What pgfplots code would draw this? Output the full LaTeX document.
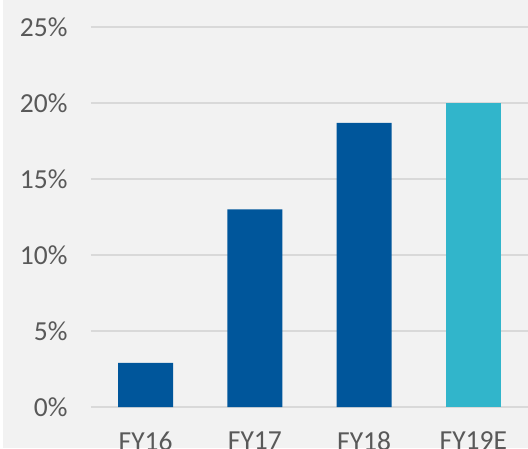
\documentclass[border=0pt]{standalone}
\usepackage{pgfplots}
\pgfplotsset{compat=1.18}
\usepackage{fontspec}
\setmainfont{Carlito}
\definecolor{bg}{HTML}{F2F2F2}
\definecolor{gridc}{HTML}{D9D9D9}
\definecolor{lab}{HTML}{595959}
\definecolor{dblue}{HTML}{00569B}
\definecolor{tealc}{HTML}{31B5CB}
\begin{document}
\begin{tikzpicture}
\useasboundingbox (0,0) rectangle (528pt,448pt);
\clip (0,0) rectangle (528pt,448pt);
\fill[white] (0,0) rectangle (528pt,448pt);
\fill[bg] (3pt,0) rectangle (528pt,448pt);
\begin{axis}[
  at={(91pt,41pt)}, anchor=south west,
  scale only axis, width=437pt, height=380pt,
  xmin=-0.5, xmax=3.5, ymin=0, ymax=25,
  ytick={0,5,...,25},
  yticklabel={\pgfmathprintnumber{\tick}\%},
  xtick={0,1,2,3},
  xticklabels={FY16,FY17,FY18,FY19E},
  axis line style={draw=none},
  major tick length=0pt,
  ymajorgrids,
  grid style={draw=gridc, line width=1.3pt},
  tick label style={font=\fontsize{27.5}{32}\selectfont, text=lab},
  yticklabel style={xshift=-20pt},
  xticklabel style={yshift=-21pt},
  /pgf/number format/assume math mode=true,
  ybar, bar width=55pt, bar shift=0pt,
  clip=false,
]
\addplot[fill=dblue, draw=none] coordinates {(0,2.9) (1,13) (2,18.7)};
\addplot[fill=tealc, draw=none] coordinates {(3,20)};
\end{axis}
\end{tikzpicture}
\end{document}
